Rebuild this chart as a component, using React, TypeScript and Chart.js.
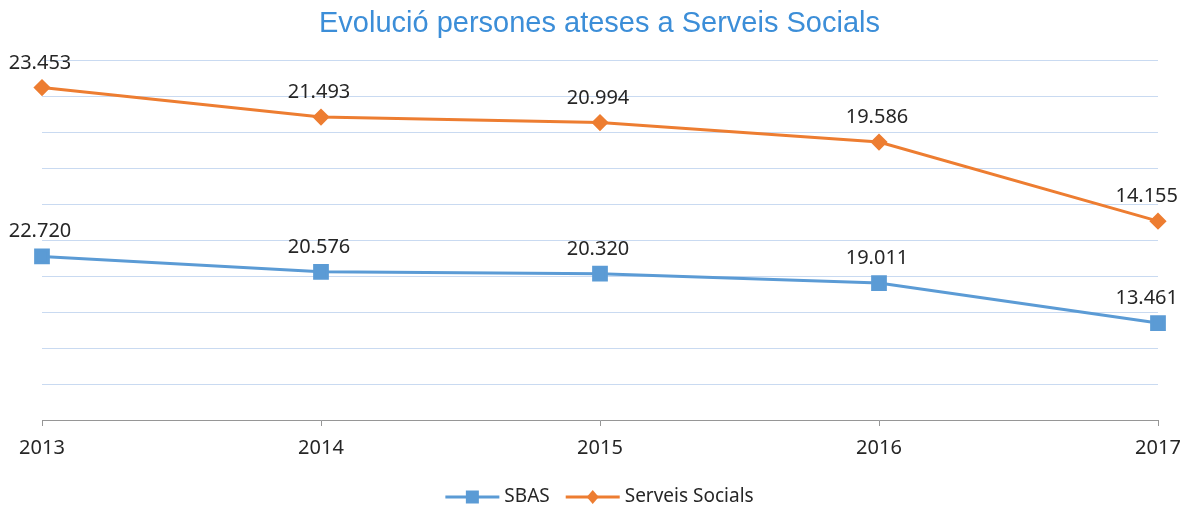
import React, { useEffect, useRef } from 'react';
import { Chart, registerables } from 'chart.js';

Chart.register(...registerables);

const chartTitle = 'Evolució persones ateses a Serveis Socials';
const years = ['2013', '2014', '2015', '2016', '2017'];
const sbasValues = [22720, 20576, 20320, 19011, 13461];
const serveisValues = [23453, 21493, 20994, 19586, 14155];
const seriesNames = ['SBAS', 'Serveis Socials'];
const seriesColors = ['#5B9BD5', '#ED7D31'];
const seriesMarkers = ['rect', 'rectRot'];
const yMin = 0;
const yMax = 50000;
const yStep = 5000;

const textColor = '#262626';

const fmt = (v: number) => String(v).replace(/\B(?=(\d{3})+(?!\d))/g, '.');

const overlayPlugin = {
  id: 'overlay',
  afterDatasetsDraw(chart: any) {
    const ctx = chart.ctx;
    ctx.save();
    ctx.font = '20px "Noto Sans"';
    ctx.fillStyle = textColor;
    ctx.textAlign = 'center';
    ctx.textBaseline = 'alphabetic';
    chart.data.datasets.forEach((ds: any, i: number) => {
      const meta = chart.getDatasetMeta(i);
      meta.data.forEach((pt: any, j: number) => {
        const txt = fmt(ds.data[j]);
        const w = ctx.measureText(txt).width;
        let x = pt.x - 2;
        x = Math.min(x, chart.width - 21 - w / 2);
        x = Math.max(x, 8 + w / 2);
        ctx.fillText(txt, x, pt.y - 19);
      });
    });
    ctx.restore();
  },
  afterDraw(chart: any) {
    const ctx = chart.ctx;
    ctx.save();
    // title
    ctx.font = '29px "Liberation Sans"';
    ctx.fillStyle = '#3C8ED8';
    ctx.textAlign = 'center';
    ctx.textBaseline = 'alphabetic';
    ctx.fillText(chartTitle, chart.width / 2, 32);

    // legend
    ctx.font = '19px "Noto Sans"';
    const lineW = 54;
    const gap = 5;
    const itemGap = 16;
    const widths = seriesNames.map((n) => ctx.measureText(n).width);
    const total = widths.reduce((a, w) => a + lineW + gap + w, 0) + itemGap * (seriesNames.length - 1);
    let x = chart.width / 2 - total / 2;
    const y = 497;
    seriesNames.forEach((name, i) => {
      ctx.strokeStyle = seriesColors[i];
      ctx.lineWidth = 3;
      ctx.beginPath();
      ctx.moveTo(x, y);
      ctx.lineTo(x + lineW, y);
      ctx.stroke();
      const cx = x + lineW / 2;
      ctx.fillStyle = seriesColors[i];
      ctx.beginPath();
      if (seriesMarkers[i] === 'rect') {
        ctx.rect(cx - 6.5, y - 6.5, 13, 13);
      } else {
        ctx.moveTo(cx, y - 7);
        ctx.lineTo(cx + 6, y);
        ctx.lineTo(cx, y + 7);
        ctx.lineTo(cx - 6, y);
        ctx.closePath();
      }
      ctx.fill();
      ctx.fillStyle = textColor;
      ctx.textAlign = 'left';
      ctx.textBaseline = 'middle';
      ctx.fillText(name, x + lineW + gap, y);
      x += lineW + gap + widths[i] + itemGap;
    });
    ctx.restore();
  },
};

export default function App() {
  const ref = useRef<HTMLCanvasElement | null>(null);
  useEffect(() => {
    if (!ref.current) return;
    const chart = new Chart(ref.current, {
      type: 'line',
      data: {
        labels: years,
        datasets: [
          {
            label: seriesNames[0],
            data: sbasValues,
            borderColor: seriesColors[0],
            backgroundColor: seriesColors[0],
            borderWidth: 3,
            pointStyle: seriesMarkers[0] as any,
            pointRadius: 9,
            pointHoverRadius: 9,
            tension: 0,
            fill: false,
          },
          {
            label: seriesNames[1],
            data: serveisValues,
            borderColor: seriesColors[1],
            backgroundColor: seriesColors[1],
            borderWidth: 3,
            pointStyle: seriesMarkers[1] as any,
            pointRadius: 6.5,
            pointHoverRadius: 6.5,
            tension: 0,
            fill: false,
          },
        ],
      },
      options: {
        responsive: false,
        animation: false,
        devicePixelRatio: 1,
        layout: { padding: { left: 42, right: 41, top: 60, bottom: 0 } },
        plugins: {
          legend: { display: false },
          title: { display: false },
          tooltip: { enabled: false },
        },
        scales: {
          x: {
            type: 'category',
            offset: false,
            grid: {
              display: true,
              drawOnChartArea: false,
              drawTicks: true,
              tickLength: 6,
              color: '#969696',
            },
            border: { display: true, color: '#969696', width: 1 },
            ticks: {
              color: textColor,
              font: { family: '"Noto Sans"', size: 20 },
              padding: 10,
              maxRotation: 0,
              autoSkip: false,
            },
            afterFit: (scale: any) => {
              scale.height = 92;
            },
          },
          y: {
            stacked: true,
            min: yMin,
            max: yMax,
            ticks: { display: false, stepSize: yStep },
            grid: { color: '#C9DAF1', lineWidth: 1, drawTicks: false },
            border: { display: false },
            afterFit: (scale: any) => {
              scale.width = 0;
            },
          },
        },
      },
      plugins: [overlayPlugin],
    });
    return () => chart.destroy();
  }, []);
  return (
    <div style={{ position: 'absolute', left: 0, top: 0, width: 1199, height: 512, background: '#fff' }}>
      <canvas ref={ref} width={1199} height={512} style={{ display: 'block' }} />
    </div>
  );
}
